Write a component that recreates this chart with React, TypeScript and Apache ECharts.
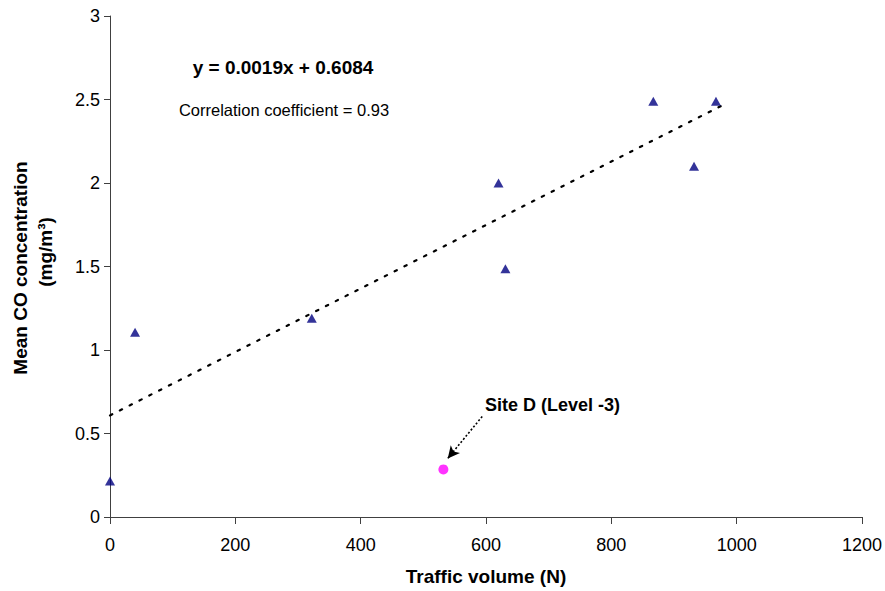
import React, { useEffect, useRef } from "react";
import * as echarts from "echarts";

const trafficVolume = [0, 40, 322, 620, 631, 867, 932, 967];
const coConcentration = [0.215, 1.107, 1.19, 2.0, 1.487, 2.49, 2.1, 2.49];
const siteD = [532, 0.285];
const trendSlope = 0.0019;
const trendIntercept = 0.6084;
const trendXRange = [0, 975];
const arrowStart = [594, 0.602];
const arrowEnd = [539, 0.351];
const xTicks = { min: 0, max: 1200, interval: 200 };
const yTicks = { min: 0, max: 3, interval: 0.5 };

const FONT = "'Liberation Sans', Arial, sans-serif";

export default function App() {
  const ref = useRef<HTMLDivElement>(null);
  useEffect(() => {
    if (!ref.current) return;
    const chart = echarts.init(ref.current, null, { renderer: "svg" });
    const axisColor = "#404040";
    const trend = trendXRange.map((x) => [x, trendSlope * x + trendIntercept]);
    chart.setOption({
      animation: false,
      backgroundColor: "#fff",
      textStyle: { fontFamily: FONT },
      grid: { left: 110, right: 22, top: 16, bottom: 73 },
      xAxis: {
        type: "value",
        ...xTicks,
        name: "Traffic volume (N)",
        nameLocation: "middle",
        nameGap: 50,
        nameTextStyle: { fontFamily: FONT, fontWeight: "bold", fontSize: 19, color: "#000" },
        axisLine: { show: true, onZero: false, lineStyle: { color: axisColor, width: 1 } },
        axisTick: { show: true, inside: false, length: 7, lineStyle: { color: axisColor } },
        axisLabel: {
          fontFamily: FONT,
          fontSize: 18,
          color: "#000",
          margin: 19,
          formatter: (v: number) => String(v),
        },
        splitLine: { show: false },
      },
      yAxis: {
        type: "value",
        ...yTicks,
        axisLine: { show: true, onZero: false, lineStyle: { color: axisColor, width: 1 } },
        axisTick: { show: true, inside: false, length: 6, lineStyle: { color: axisColor } },
        axisLabel: {
          fontFamily: FONT,
          fontSize: 18,
          color: "#000",
          margin: 10,
          formatter: (v: number) => String(v),
        },
        splitLine: { show: false },
      },
      graphic: [
        {
          type: "text",
          x: 20,
          y: 268,
          rotation: Math.PI / 2,
          style: {
            text: "Mean CO concentration",
            font: `bold 19px ${FONT}`,
            fill: "#000",
            textAlign: "center",
            textVerticalAlign: "middle",
          },
        },
        {
          type: "text",
          x: 45,
          y: 252,
          rotation: Math.PI / 2,
          style: {
            text: "(mg/m³)",
            font: `bold 19px ${FONT}`,
            fill: "#000",
            textAlign: "center",
            textVerticalAlign: "middle",
          },
        },
        {
          type: "text",
          x: 283,
          y: 67,
          style: {
            text: "y = 0.0019x + 0.6084",
            font: `bold 19px ${FONT}`,
            fill: "#000",
            textAlign: "center",
            textVerticalAlign: "middle",
          },
        },
        {
          type: "text",
          x: 284,
          y: 110,
          style: {
            text: "Correlation coefficient = 0.93",
            font: `16.5px ${FONT}`,
            fill: "#000",
            textAlign: "center",
            textVerticalAlign: "middle",
          },
        },
        {
          type: "text",
          x: 485,
          y: 405,
          style: {
            text: "Site D (Level -3)",
            font: `bold 18px ${FONT}`,
            fill: "#000",
            textAlign: "left",
            textVerticalAlign: "middle",
          },
        },
      ],
      series: [
        {
          type: "line",
          data: trend,
          showSymbol: false,
          symbol: "none",
          lineStyle: { color: "#000", width: 2.2, type: [2.5, 8.5], cap: "round" },
          silent: true,
          z: 2,
        },
        {
          type: "scatter",
          data: trafficVolume.map((x, i) => [x, coConcentration[i]]),
          symbol: "triangle",
          symbolSize: [10, 9],
          itemStyle: { color: "#000080" },
          z: 3,
        },
        {
          type: "scatter",
          data: [siteD],
          symbol: "circle",
          symbolSize: 10,
          itemStyle: { color: "#FF00FF" },
          z: 3,
          markLine: {
            silent: true,
            symbol: ["none", "arrow"],
            symbolSize: [9, 12],
            label: { show: false },
            lineStyle: { color: "#000", width: 1.6, type: [2, 2] },
            data: [[{ coord: arrowStart }, { coord: arrowEnd }]],
          },
        },
      ],
    });
    return () => chart.dispose();
  }, []);
  return (
    <div
      ref={ref}
      style={{ position: "fixed", left: 0, top: 0, width: 885, height: 591, background: "#fff" }}
    />
  );
}
